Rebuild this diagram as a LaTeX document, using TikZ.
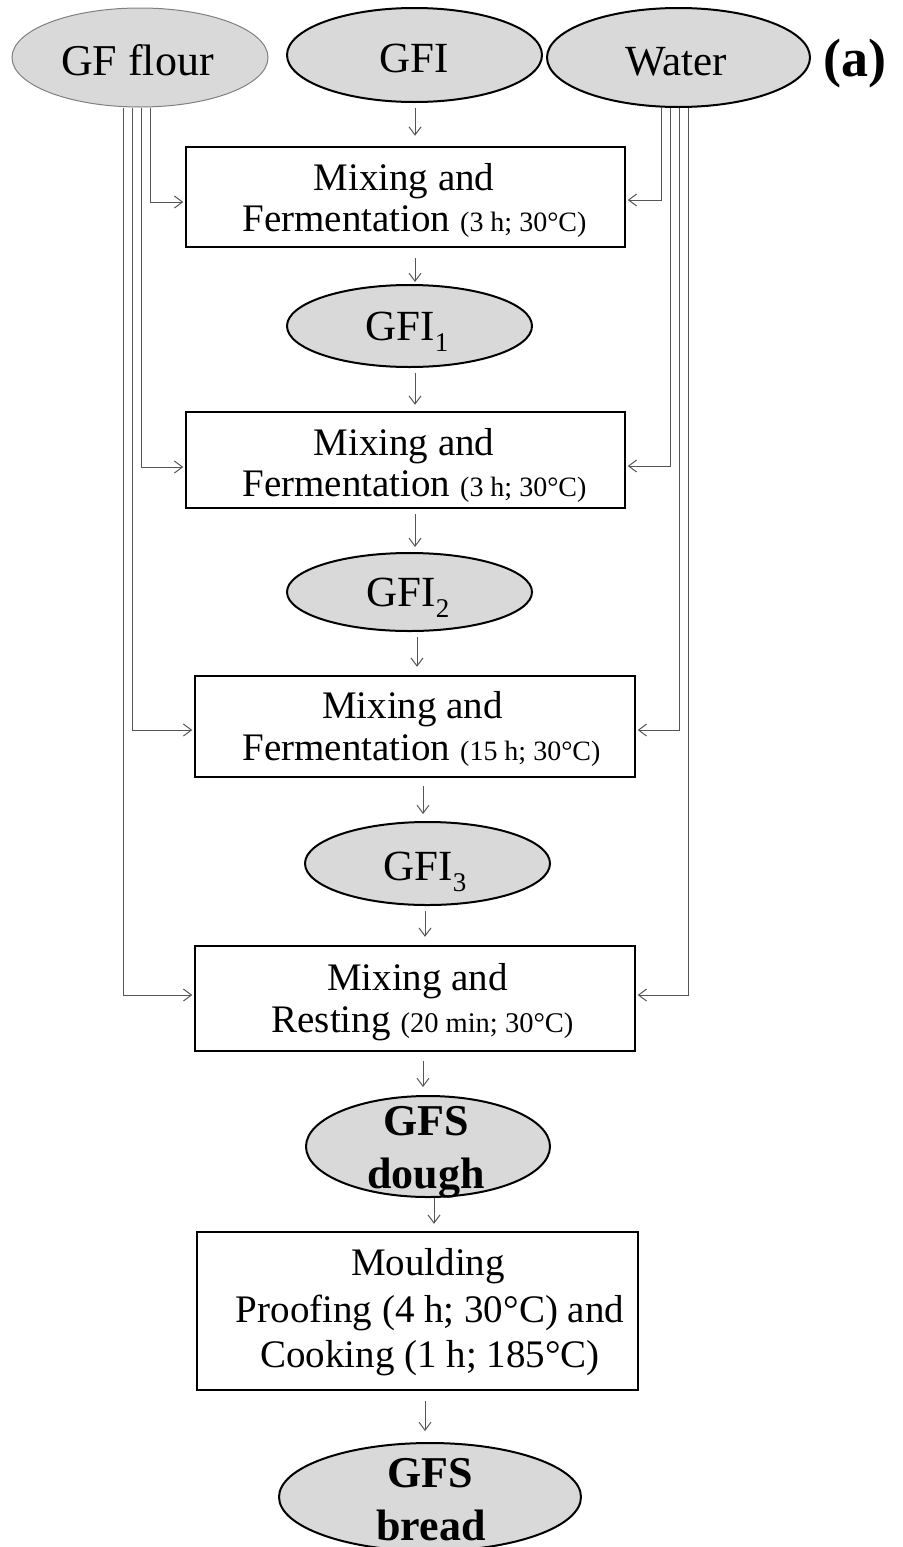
\documentclass[tikz,border=0pt]{standalone}
\usepackage{fontspec}
\setmainfont{Liberation Serif}
\usetikzlibrary{arrows.meta,shapes.geometric}
\newcommand\myfs[1]{\fontsize{#1}{#1}\selectfont}
\definecolor{fillg}{HTML}{D9D9D9}
\definecolor{lineg}{HTML}{555555}
\begin{document}
\begin{tikzpicture}[x=1pt,y=-1pt,
 ell/.style={ellipse, draw=black, line width=2pt, fill=fillg, inner sep=0pt},
 stepbox/.style={rectangle, draw=black, line width=2.5pt, fill=white, inner sep=0pt},
 txt/.style={anchor=base, inner sep=0pt},
 big/.style={font=\myfs{39}},
 arr/.style={draw=lineg, line width=1pt, -{Straight Barb[length=8pt,width=12pt]}}]
\useasboundingbox (0,0) rectangle (902,1547);
\clip (0,0) rectangle (902,1547);
\fill[white] (0,0) rectangle (902,1547);

% top inputs
\node[ell, draw=gray, line width=1pt, minimum width=256pt, minimum height=99pt] (flour) at (140,57.5) {};
\node[ell, minimum width=255pt, minimum height=94pt] (gfi) at (414.5,55) {};
\node[ell, minimum width=263pt, minimum height=99pt] (water) at (678.5,57.5) {};
\node[txt, font=\myfs{44}] (tflour) at (137.5,75) {GF flour};
\node[txt, font=\myfs{43}] (tgfi) at (414,72) {GFI};
\node[txt, font=\myfs{43}] (twater) at (676,75) {Water};
\node[txt, font=\bfseries\myfs{54}] (ta) at (855,76) {(a)};

% process chain
\node[stepbox, minimum width=439pt, minimum height=100pt] (box1) at (405.5,197) {};
\node[txt, big] (t1a) at (404,190) {Mixing and};
\node[txt, big] (t1b) at (414.5,231) {Fermentation {\myfs{28}(3 h; 30°C)}};

\node[ell, minimum width=245pt, minimum height=82pt] (gfi1) at (409.5,326) {};
\node[txt, font=\myfs{43}] (tg1) at (407,340) {GFI\raisebox{-11pt}{\myfs{27}1}};

\node[stepbox, minimum width=439pt, minimum height=96pt] (box2) at (405.5,460) {};
\node[txt, big] (t2a) at (404,455) {Mixing and};
\node[txt, big] (t2b) at (414.5,496) {Fermentation {\myfs{28}(3 h; 30°C)}};

\node[ell, minimum width=245pt, minimum height=78pt] (gfi2) at (409.5,592) {};
\node[txt, font=\myfs{43}] (tg2) at (408,606) {GFI\raisebox{-11pt}{\myfs{27}2}};

\node[stepbox, minimum width=440pt, minimum height=101pt] (box3) at (415,726.5) {};
\node[txt, big] (t3a) at (412.5,718) {Mixing and};
\node[txt, big] (t3b) at (421.5,760) {Fermentation {\myfs{28}(15 h; 30°C)}};

\node[ell, minimum width=245pt, minimum height=83pt] (gfi3) at (427.5,863.5) {};
\node[txt, font=\myfs{43}] (tg3) at (425,880) {GFI\raisebox{-11pt}{\myfs{27}3}};

\node[stepbox, minimum width=440pt, minimum height=105pt] (box4) at (415,998.5) {};
\node[txt, big] (t4a) at (417.5,990) {Mixing and};
\node[txt, big] (t4b) at (422.5,1032) {Resting {\myfs{28.5}(20 min; 30°C)}};

\node[ell, minimum width=244pt, minimum height=101pt] (dough) at (428,1146.5) {};
\node[txt, font=\bfseries\myfs{44}] (td1) at (426,1135) {GFS};
\node[txt, font=\bfseries\myfs{44}] (td2) at (426,1188) {dough};

\node[stepbox, minimum width=441pt, minimum height=158pt] (box5) at (417.5,1311) {};
\node[txt, big] (t5a) at (428,1275) {Moulding};
\node[txt, big] (t5b) at (430,1322) {Proofing (4 h; 30°C) and};
\node[txt, big] (t5c) at (430,1367) {Cooking (1 h; 185°C)};

\node[ell, minimum width=302pt, minimum height=108pt] (bread) at (430,1497) {};
\node[txt, font=\bfseries\myfs{44}] (tb1) at (430,1487) {GFS};
\node[txt, font=\bfseries\myfs{44}] (tb2) at (431,1540) {bread};

% vertical arrows
\draw[arr, shorten <=5pt, shorten >=10pt] ([xshift=0.5pt]gfi.south) -- ([xshift=9.5pt]box1.north);
\draw[arr, shorten <=10pt, shorten >=2pt] ([xshift=9.5pt]box1.south) -- ([xshift=5.5pt]gfi1.north);
\draw[arr, shorten <=5pt, shorten >=6pt] ([xshift=5.5pt]gfi1.south) -- ([xshift=9.5pt]box2.north);
\draw[arr, shorten <=5pt, shorten >=5pt] ([xshift=9.5pt]box2.south) -- ([xshift=5.5pt]gfi2.north);
\draw[arr, shorten <=5pt, shorten >=8pt] ([xshift=7.5pt]gfi2.south) -- ([xshift=2pt]box3.north);
\draw[arr, shorten <=8pt, shorten >=7pt] ([xshift=8pt]box3.south) -- ([xshift=-4.5pt]gfi3.north);
\draw[arr, shorten <=5pt, shorten >=8pt] ([xshift=-2.5pt]gfi3.south) -- ([xshift=10pt]box4.north);
\draw[arr, shorten <=9pt, shorten >=8pt] ([xshift=8pt]box4.south) -- ([xshift=-5pt]dough.north);
\draw[arr, shorten >=7pt] ([xshift=6pt]dough.south) -- ([xshift=16.5pt]box5.north);
\draw[arr, shorten <=10pt, shorten >=11pt] ([xshift=7.5pt]box5.south) -- ([xshift=-5pt]bread.north);

% feed lines from GF flour
\draw[arr, shorten >=1.5pt] ([xshift=10pt]flour.south) |- ([yshift=-5pt]box1.west);
\draw[arr, shorten >=1.5pt] ([xshift=1pt]flour.south) |- ([yshift=-7pt]box2.west);
\draw[arr, shorten >=1.5pt] ([xshift=-8pt]flour.south) |- ([yshift=-3.5pt]box3.west);
\draw[arr, shorten >=1.5pt] ([xshift=-17pt]flour.south) |- ([yshift=3.5pt]box4.west);
% feed lines from Water
\draw[arr, shorten >=1.5pt] ([xshift=-17.5pt]water.south) |- ([yshift=-3pt]box1.east);
\draw[arr, shorten >=1.5pt] ([xshift=-8.5pt]water.south) |- ([yshift=-6pt]box2.east);
\draw[arr, shorten >=1.5pt] ([xshift=0.5pt]water.south) |- ([yshift=-3.5pt]box3.east);
\draw[arr, shorten >=1.5pt] ([xshift=9.5pt]water.south) |- ([yshift=3.5pt]box4.east);
\end{tikzpicture}
\end{document}
